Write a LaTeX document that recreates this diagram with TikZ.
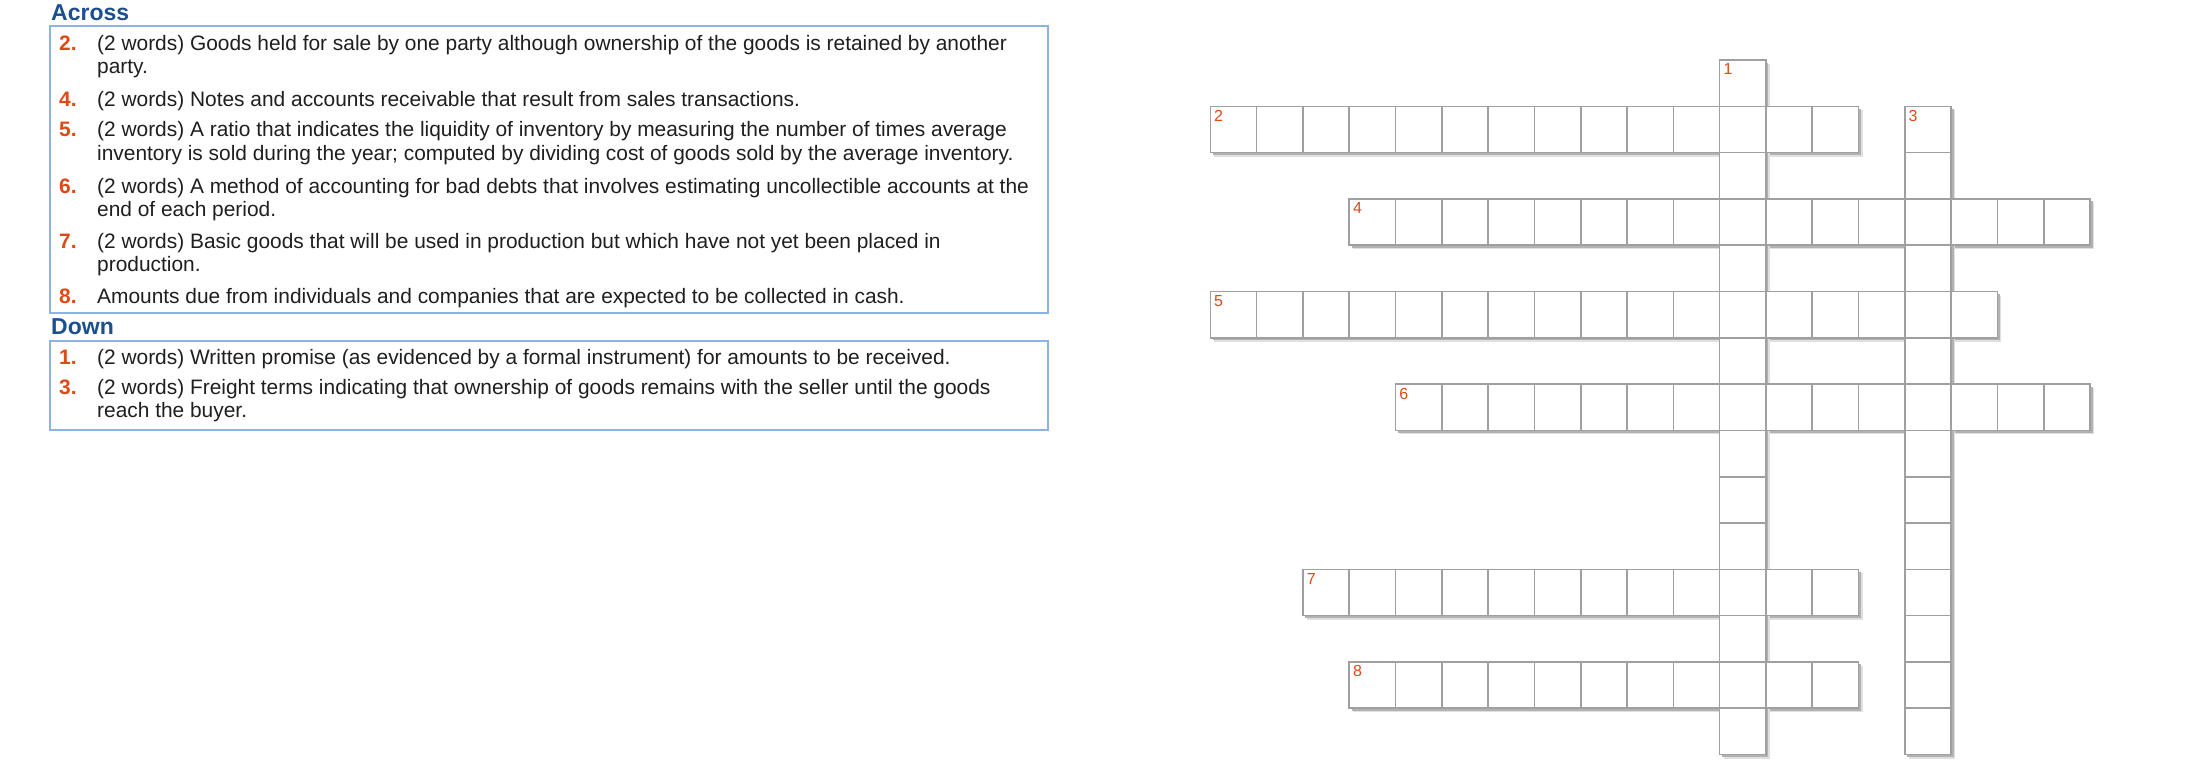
\documentclass[tikz,border=0pt]{standalone}
\usepackage{fontspec}
\setmainfont{Liberation Sans}
\definecolor{cluered}{HTML}{DD4A16}
\definecolor{headblue}{HTML}{1C4F8E}
\definecolor{boxblue}{HTML}{8DB3E2}
\definecolor{cellgrey}{HTML}{A0A0A0}
\newcommand{\cluefont}{\fontsize{20.9}{23.3}\selectfont}

\begin{document}
\begin{tikzpicture}[x=1pt, y=-1pt, inner sep=0pt,
		head/.style={anchor=base west, headblue, font=\fontsize{23}{26}\selectfont\bfseries},
		num/.style={anchor=base west, cluered, font=\cluefont\bfseries},
		clue/.style={anchor=base west, align=left, text=black!88, font=\cluefont},
		cell/.style={draw=cellgrey, line width=1.6pt, fill=white, minimum size=46.3pt},
		gnum/.style={anchor=north west, cluered, font=\fontsize{16}{17}\selectfont}]
	\useasboundingbox[fill=white] (0,0) rectangle (2200,761);
	\draw[boxblue, line width=2pt, fill=white] (50,26) rectangle (1048,312.7);
	\draw[boxblue, line width=2pt, fill=white] (50,340.7) rectangle (1048,430);
	\node[head] (across) at (51,20.7) {Across};
	\node[head] (down) at (51,334.3) {Down};
	\node[num] (n2) at (59,50.5) {2.};
	\node[clue] (t2) at (97,73.8) {(2 words) Goods held for sale by one party although ownership of the goods is retained by another\\party.};
	\node[num] (n4) at (59,106) {4.};
	\node[clue] (t4) at (97,106) {(2 words) Notes and accounts receivable that result from sales transactions.};
	\node[num] (n5) at (59,136.7) {5.};
	\node[clue] (t5) at (97,160) {(2 words) A ratio that indicates the liquidity of inventory by measuring the number of times average\\inventory is sold during the year; computed by dividing cost of goods sold by the average inventory.};
	\node[num] (n6) at (59,193) {6.};
	\node[clue] (t6) at (97,216.3) {(2 words) A method of accounting for bad debts that involves estimating uncollectible accounts at the\\end of each period.};
	\node[num] (n7) at (59,248) {7.};
	\node[clue] (t7) at (97,271.3) {(2 words) Basic goods that will be used in production but which have not yet been placed in\\production.};
	\node[num] (n8) at (59,303.3) {8.};
	\node[clue] (t8) at (97,303.3) {Amounts due from individuals and companies that are expected to be collected in cash.};
	\node[num] (n1) at (59,364.3) {1.};
	\node[clue] (t1) at (97,364.3) {(2 words) Written promise (as evidenced by a formal instrument) for amounts to be received.};
	\node[num] (n3) at (59,394.5) {3.};
	\node[clue] (t3) at (97,417.8) {(2 words) Freight terms indicating that ownership of goods remains with the seller until the goods\\reach the buyer.};
	\foreach \col/\row/\len in {0/1/14, 3/3/16, 0/5/17, 4/7/15, 2/11/12, 3/13/11} {
		\fill[black!12] (1214.3+46.3*\col, 64+46.3*\row) rectangle ++(46.3*\len, 46.3);
		\fill[black!30] (1212.8+46.3*\col, 62.5+46.3*\row) rectangle ++(46.3*\len, 46.3);
	}
	\foreach \col/\row/\len in {11/0/15, 15/1/14} {
		\fill[black!12] (1214.3+46.3*\col, 64+46.3*\row) rectangle ++(46.3, 46.3*\len);
		\fill[black!30] (1212.8+46.3*\col, 62.5+46.3*\row) rectangle ++(46.3, 46.3*\len);
	}
	\foreach \col/\row/\len in {0/1/14, 3/3/16, 0/5/17, 4/7/15, 2/11/12, 3/13/11} {
		\foreach \k in {1,...,\len} {
			\pgfmathtruncatemacro{\cx}{\col+\k-1}
			\node[cell] (c\cx-\row) at (1233.45+46.3*\cx, 83.15+46.3*\row) {};
		}
	}
	\foreach \col/\row/\len in {11/0/15, 15/1/14} {
		\foreach \k in {1,...,\len} {
			\pgfmathtruncatemacro{\cy}{\row+\k-1}
			\node[cell] (c\col-\cy) at (1233.45+46.3*\col, 83.15+46.3*\cy) {};
		}
	}
	\node[gnum] (g1) at ([xshift=4.5pt, yshift=-4.5pt]c11-0.north west) {1};
	\node[gnum] (g2) at ([xshift=4.5pt, yshift=-4.5pt]c0-1.north west) {2};
	\node[gnum] (g3) at ([xshift=4.5pt, yshift=-4.5pt]c15-1.north west) {3};
	\node[gnum] (g4) at ([xshift=4.5pt, yshift=-4.5pt]c3-3.north west) {4};
	\node[gnum] (g5) at ([xshift=4.5pt, yshift=-4.5pt]c0-5.north west) {5};
	\node[gnum] (g6) at ([xshift=4.5pt, yshift=-4.5pt]c4-7.north west) {6};
	\node[gnum] (g7) at ([xshift=4.5pt, yshift=-4.5pt]c2-11.north west) {7};
	\node[gnum] (g8) at ([xshift=4.5pt, yshift=-4.5pt]c3-13.north west) {8};
\end{tikzpicture}
\end{document}
